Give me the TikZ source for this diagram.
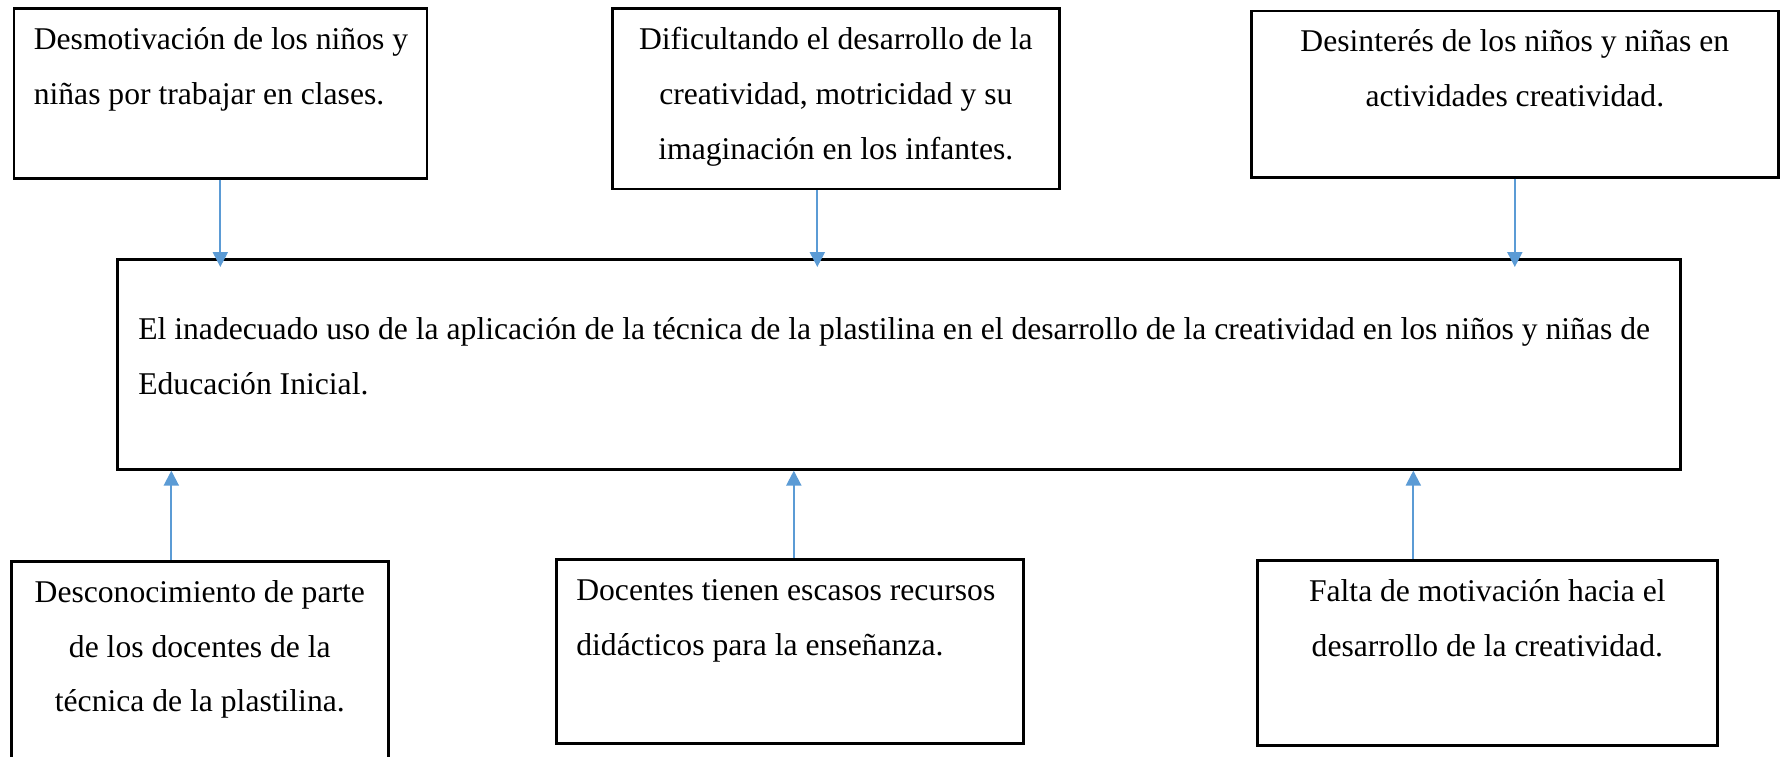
\documentclass[tikz,border=0pt]{standalone}
\usepackage{fontspec}
\setmainfont{Liberation Serif}
\usepackage{tikz}
\usetikzlibrary{arrows.meta, positioning}
\definecolor{arrowblue}{HTML}{5B9BD5}

\begin{document}
\begin{tikzpicture}[
  box/.style={draw, line width=0.75pt, anchor=north west, inner ysep=0pt,
    inner xsep=0.15cm, align=flush center, text height=0.41cm,
    font=\fontsize{9pt}{15.6pt}\selectfont},
  arr/.style={arrowblue, line width=0.6pt, -{Triangle[length=0.15cm, width=0.15cm]}}
]
\useasboundingbox (0,0) rectangle (17.84,-7.56);

\node[box, align=flush left, inner xsep=0.2cm, text width=3.73cm, text depth=1.29cm] (desmot) at (0.125,-0.07)
  {\mbox{Desmotivación de los niños y}\\niñas por trabajar en clases.};
\node[box, text width=4.17cm, text depth=1.395cm] (dificult) at (6.11,-0.073)
  {Dificultando el desarrollo de la\\creatividad, motricidad y su\\imaginación en los infantes.};
\node[box, text width=4.97cm, text depth=1.254cm] (desint) at (12.50,-0.096)
  {Desinterés de los niños y niñas en\\actividades creatividad.};

\node[box, align=flush left, inner xsep=0.21cm, text width=15.21cm, text height=0.80cm, text depth=1.30cm] (problema) at (1.16,-2.58)
  {\mbox{El inadecuado uso de la aplicación de la técnica de la plastilina en el desarrollo de la creatividad en los niños y niñas de}\\Educación Inicial.};

\node[box, text width=3.47cm, text depth=1.69cm] (descon) at (0.10,-5.60)
  {Desconocimiento de parte\\de los docentes de la\\técnica de la plastilina.};
\node[box, align=flush left, inner xsep=0.2cm, text width=4.27cm, text depth=1.43cm] (docentes) at (5.55,-5.58)
  {\mbox{Docentes tienen escasos recursos}\\didácticos para la enseñanza.};
\node[box, text width=4.30cm, text depth=1.44cm] (falta) at (12.56,-5.59)
  {Falta de motivación hacia el\\desarrollo de la creatividad.};

\draw[arr, shorten >=-0.09cm] (desmot.south) -- (desmot.south |- problema.north);
\draw[arr, shorten >=-0.09cm] ([xshift=-0.185cm]dificult.south) -- ([xshift=-0.185cm]dificult.south |- problema.north);
\draw[arr, shorten >=-0.09cm] (desint.south) -- (desint.south |- problema.north);

\draw[arr] ([xshift=-0.285cm]descon.north) -- ([xshift=-0.285cm]descon.north |- problema.south);
\draw[arr] ([xshift=0.04cm]docentes.north) -- ([xshift=0.04cm]docentes.north |- problema.south);
\draw[arr] ([xshift=-0.74cm]falta.north) -- ([xshift=-0.74cm]falta.north |- problema.south);
\end{tikzpicture}
\end{document}
